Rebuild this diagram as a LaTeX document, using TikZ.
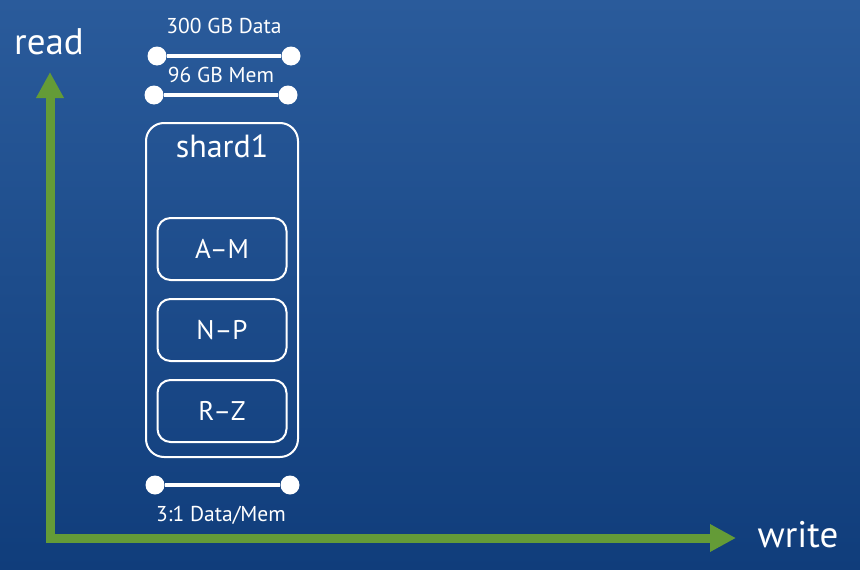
\documentclass[tikz,border=0pt]{standalone}
\usepackage{fontspec}
\setmainfont{PT Sans}
\usetikzlibrary{arrows.meta}

\definecolor{slidetop}{RGB}{42,91,155}
\definecolor{slidebottom}{RGB}{16,61,123}
\definecolor{axisgreen}{RGB}{100,155,55}

\begin{document}
\begin{tikzpicture}[x=1pt, y=-1pt,
    keyrange/.style = {rectangle, draw=white, line width=2pt, rounded corners=13pt,
                    minimum width=129pt, minimum height=62pt, text=white,
                    font=\fontsize{27pt}{32pt}\selectfont},
    endpoint/.style = {circle, fill=white, minimum size=19pt, inner sep=0pt},
    bar/.style = {white, line width=4pt},
    caption/.style = {text=white, font=\fontsize{21.5pt}{26pt}\selectfont},
    axislabel/.style = {text=white, font=\fontsize{37pt}{44pt}\selectfont},
    axis/.style = {axisgreen, line width=9pt,
                   {Triangle[length=26pt, width=26pt]}-{Triangle[length=26pt, width=26pt]}}]
  % Background.
  \useasboundingbox (0, 0) rectangle (860, 570);
  \shade [top color=slidetop, bottom color=slidebottom] (0, 0) rectangle (860, 570);

  % Axes.
  \coordinate (ReadTip) at (50, 72);
  \coordinate (Origin) at (50, 538);
  \coordinate (WriteTip) at (736, 538);
  \draw [axis] (ReadTip)
               to (Origin)
               to (WriteTip);
  \node at (49, 42) [axislabel, name=Read] {read};
  \node at (798, 535) [axislabel, name=Write] {write};

  % Size bars.
  \node at (157, 56) [endpoint, name=DataLeft] {};
  \node at (291, 56) [endpoint, name=DataRight] {};
  \draw [bar] (DataLeft) to (DataRight);
  \node at (224, 26) [caption, name=DataSize] {300 GB Data};

  \node at (154, 95) [endpoint, name=MemLeft] {};
  \node at (288, 95) [endpoint, name=MemRight] {};
  \draw [bar] (MemLeft) to (MemRight);
  \node at (221, 75) [caption, name=MemSize] {96 GB Mem};

  \node at (155, 485) [endpoint, name=RatioLeft] {};
  \node at (290, 485) [endpoint, name=RatioRight] {};
  \draw [bar] (RatioLeft) to (RatioRight);
  \node at (221, 515) [caption, name=Ratio] {3:1 Data/Mem};

  % Shard and its key ranges.
  \node at (222, 290) [rectangle, draw=white, line width=2pt, rounded corners=18pt,
                       minimum width=152pt, minimum height=334pt, name=Shard] {};
  \node at (222, 146) [text=white, font=\fontsize{32pt}{38pt}\selectfont, name=ShardName] {shard1};
  \node at (222, 249) [keyrange, name=RangeAM] {A–M};
  \node at (222, 330) [keyrange, name=RangeNP] {N–P};
  \node at (222, 411) [keyrange, name=RangeRZ] {R–Z};
\end{tikzpicture}
\end{document}
